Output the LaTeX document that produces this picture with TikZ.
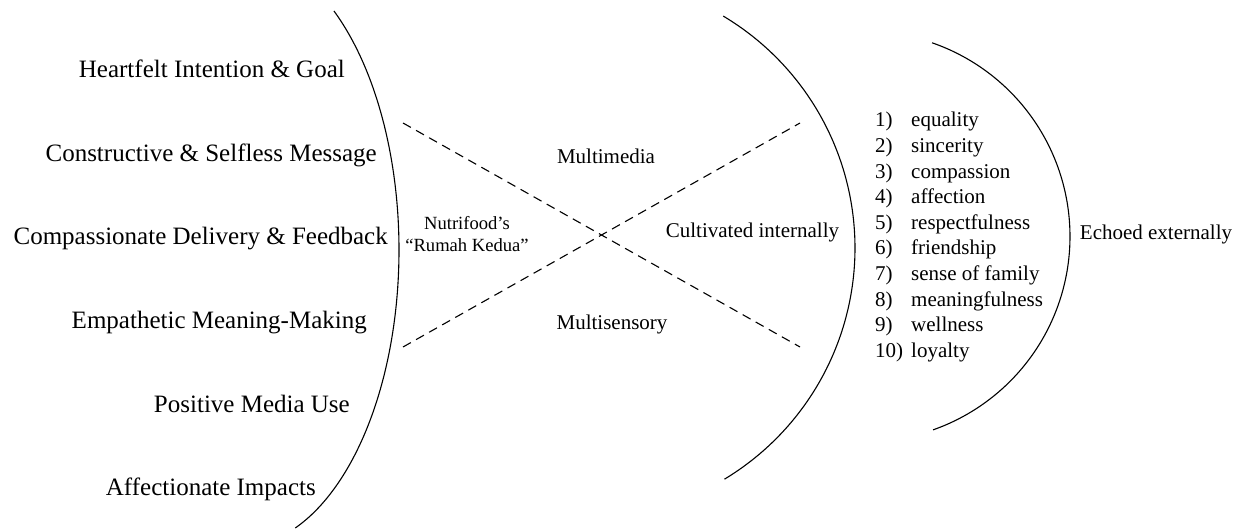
\documentclass[tikz,border=0pt]{standalone}
\usepackage{fontspec}
\setmainfont{Liberation Serif}
\begin{document}
\begin{tikzpicture}[x=1pt,y=-1pt,
  curve/.style={line width=1.1pt,black},
  dashline/.style={line width=1.1pt,dash pattern=on 9pt off 6pt},
  biglabel/.style={inner sep=0pt,anchor=base east,font=\fontsize{25}{30}\selectfont},
  midlabel/.style={inner sep=0pt,anchor=base,font=\fontsize{21}{25}\selectfont},
  smalllabel/.style={inner sep=0pt,anchor=base,font=\fontsize{18.6}{22}\selectfont},
  numlabel/.style={inner sep=0pt,anchor=base west,font=\fontsize{21}{25}\selectfont}]
\useasboundingbox (0,0) rectangle (1242,529);
% left labels
\node[biglabel] (l1) at (345,78) {Heartfelt Intention \& Goal};
\node[biglabel] (l2) at (377,162) {Constructive \& Selfless Message};
\node[biglabel] (l3) at (388,245) {Compassionate Delivery \& Feedback};
\node[biglabel] (l4) at (367,328) {Empathetic Meaning-Making};
\node[biglabel] (l5) at (350,412) {Positive Media Use};
\node[biglabel] (l6) at (316,495) {Affectionate Impacts};
% arcs
\draw[curve] plot[domain=-53.6:69.4,samples=120,smooth] ({239+160*cos(\x)},{250+297*sin(\x)});
\draw[curve] plot[domain=-59.2:58.9,samples=120,smooth] ({585+270*cos(\x)},{248+270*sin(\x)});
\draw[curve] plot[domain=-70.9:70.6,samples=120,smooth] ({865+205*cos(\x)},{236.5+205*sin(\x)});
% dashed cross
\coordinate (tl) at (403,123);
\coordinate (br) at (800,347);
\coordinate (bl) at (403,347);
\coordinate (tr) at (800,123);
\draw[dashline] (tl) -- (br);
\draw[dashline] (bl) -- (tr);
% middle labels
\node[smalllabel] (n1) at (467,230) {Nutrifood’s};
\node[smalllabel] (n2) at (467,252) {“Rumah Kedua”};
\node[midlabel] (mm) at (606,164) {Multimedia};
\node[midlabel] (ms) at (612,330) {Multisensory};
\node[midlabel] (ci) at (752.5,238) {Cultivated internally};
\node[midlabel] (ee) at (1156,240) {Echoed externally};
% list
\foreach \i/\t [count=\k from 0] in {1/equality,2/sincerity,3/compassion,4/affection,5/respectfulness,6/friendship,7/sense of family,8/meaningfulness,9/wellness,10/loyalty}{
  \node[numlabel] (num\i) at (875,{127+25.6*\k}) {\i)};
  \node[numlabel] (item\i) at (911,{127+25.6*\k}) {\t};
}
\end{tikzpicture}
\end{document}
